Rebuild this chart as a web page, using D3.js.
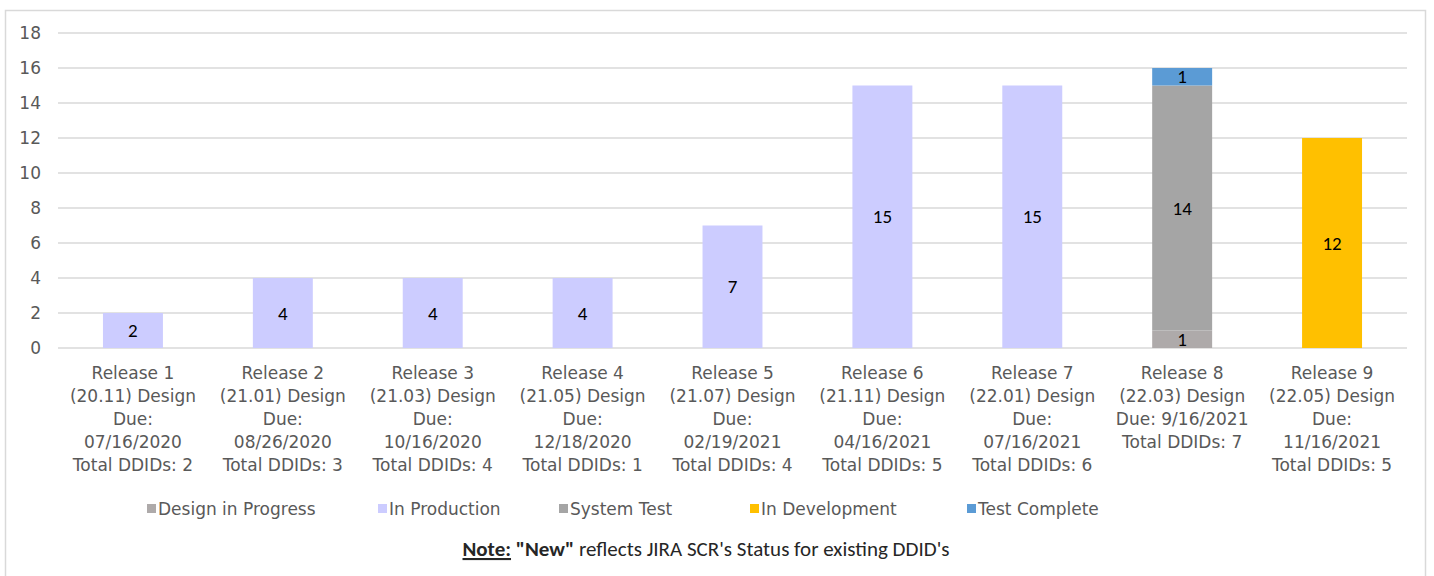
<!DOCTYPE html>
<html>
<head>
<meta charset="utf-8">
<script src="https://cdn.jsdelivr.net/npm/d3@7"></script>
<style>
  body { margin: 0; background: #fff; }
  svg { display: block; }
</style>
</head>
<body>
<div id="chart"></div>
<script>
// categories (each label is wrapped the way the reference shows it)
const categories = ['R1', 'R2', 'R3', 'R4', 'R5', 'R6', 'R7', 'R8', 'R9'];
const categoryLabels = [
    ['Release 1', '(20.11) Design', 'Due:', '07/16/2020', 'Total DDIDs: 2'],
    ['Release 2', '(21.01) Design', 'Due:', '08/26/2020', 'Total DDIDs: 3'],
    ['Release 3', '(21.03) Design', 'Due:', '10/16/2020', 'Total DDIDs: 4'],
    ['Release 4', '(21.05) Design', 'Due:', '12/18/2020', 'Total DDIDs: 1'],
    ['Release 5', '(21.07) Design', 'Due:', '02/19/2021', 'Total DDIDs: 4'],
    ['Release 6', '(21.11) Design', 'Due:', '04/16/2021', 'Total DDIDs: 5'],
    ['Release 7', '(22.01) Design', 'Due:', '07/16/2021', 'Total DDIDs: 6'],
    ['Release 8', '(22.03) Design', 'Due: 9/16/2021', 'Total DDIDs: 7'],
    ['Release 9', '(22.05) Design', 'Due:', '11/16/2021', 'Total DDIDs: 5']
];

// series, bottom to top
const seriesNames = ['Design in Progress', 'In Production', 'System Test', 'In Development', 'Test Complete'];
const designInProgress = [0, 0, 0, 0, 0, 0, 0, 1, 0];
const inProduction     = [2, 4, 4, 4, 7, 15, 15, 0, 0];
const systemTest       = [0, 0, 0, 0, 0, 0, 0, 14, 0];
const inDevelopment    = [0, 0, 0, 0, 0, 0, 0, 0, 12];
const testComplete     = [0, 0, 0, 0, 0, 0, 0, 1, 0];
const seriesColors = ['#aeaaaa', '#ccccff', '#a5a5a5', '#ffc000', '#5b9bd5'];

const yTicks = [0, 2, 4, 6, 8, 10, 12, 14, 16, 18];

const W = 1434, H = 576;
const labelFont = "'Century Gothic', 'URW Gothic', 'DejaVu Sans', sans-serif";
const valueFont = "Calibri, Carlito, 'Open Sans', sans-serif";

const svg = d3.select('#chart').append('svg')
    .attr('width', W)
    .attr('height', H);

// chart border
svg.append('rect')
    .attr('x', 5.5).attr('y', 10.5)
    .attr('width', 1420).attr('height', 600)
    .attr('fill', '#fff')
    .attr('stroke', '#d9d9d9')
    .attr('stroke-width', 1.5);

const plot = { left: 58, right: 1407, top: 33, bottom: 348 };

const x = d3.scaleBand()
    .domain(categories)
    .range([plot.left, plot.right])
    .paddingInner(0.6)
    .paddingOuter(0.3);

const y = d3.scaleLinear()
    .domain([0, 18])
    .range([plot.bottom, plot.top]);

// gridlines
svg.append('g')
    .selectAll('line')
    .data(yTicks)
    .join('line')
    .attr('x1', plot.left).attr('x2', plot.right)
    .attr('y1', d => y(d)).attr('y2', d => y(d))
    .attr('stroke', '#d9d9d9')
    .attr('stroke-width', 1.5);

// y axis labels
const yAxis = svg.append('g')
    .attr('transform', `translate(${plot.left}, 0)`)
    .call(d3.axisLeft(y).tickValues(yTicks).tickSize(0).tickPadding(17));
yAxis.select('.domain').remove();
yAxis.selectAll('text')
    .attr('font-family', labelFont)
    .attr('font-size', 17)
    .attr('fill', '#595959');

// stacked data
const table = categories.map((c, i) => ({
    cat: c,
    'Design in Progress': designInProgress[i],
    'In Production': inProduction[i],
    'System Test': systemTest[i],
    'In Development': inDevelopment[i],
    'Test Complete': testComplete[i]
}));
const stacked = d3.stack().keys(seriesNames)(table);

const layers = svg.append('g')
    .selectAll('g')
    .data(stacked)
    .join('g')
    .attr('fill', (d, i) => seriesColors[i]);

layers.selectAll('rect')
    .data(d => d.filter(s => s[1] - s[0] > 0))
    .join('rect')
    .attr('x', d => x(d.data.cat))
    .attr('y', d => y(d[1]))
    .attr('width', x.bandwidth())
    .attr('height', d => y(d[0]) - y(d[1]));

// data labels
layers.selectAll('text')
    .data(d => d.filter(s => s[1] - s[0] > 0))
    .join('text')
    .attr('x', d => x(d.data.cat) + x.bandwidth() / 2)
    .attr('y', d => (y(d[0]) + y(d[1])) / 2)
    .attr('dy', '0.35em')
    .attr('text-anchor', 'middle')
    .attr('font-family', valueFont)
    .attr('font-size', 19)
    .attr('fill', '#000')
    .text(d => d[1] - d[0]);

// category labels
const xLabels = svg.append('g')
    .selectAll('text')
    .data(categories)
    .join('text')
    .attr('x', d => x(d) + x.bandwidth() / 2)
    .attr('y', 379)
    .attr('text-anchor', 'middle')
    .attr('font-family', labelFont)
    .attr('font-size', 17)
    .attr('fill', '#595959');
xLabels.each(function (d, i) {
    d3.select(this).selectAll('tspan')
        .data(categoryLabels[i])
        .join('tspan')
        .attr('x', x(d) + x.bandwidth() / 2)
        .attr('dy', (t, j) => j === 0 ? 0 : 23)
        .text(t => t);
});

// legend
const legendX = [147, 378, 559, 750, 967];
const legend = svg.append('g')
    .selectAll('g')
    .data(seriesNames)
    .join('g')
    .attr('transform', (d, i) => `translate(${legendX[i]}, 509)`);
legend.append('rect')
    .attr('x', 0).attr('y', -5)
    .attr('width', 9).attr('height', 9)
    .attr('fill', (d, i) => seriesColors[i]);
legend.append('text')
    .attr('x', 11)
    .attr('dy', '0.35em')
    .attr('font-family', labelFont)
    .attr('font-size', 17)
    .attr('fill', '#595959')
    .text(d => d);

// note
const note = svg.append('text')
    .attr('x', 706)
    .attr('y', 556)
    .attr('text-anchor', 'middle')
    .attr('font-family', valueFont)
    .attr('font-size', 21)
    .attr('fill', '#262626');
note.append('tspan').attr('font-weight', 'bold').attr('text-decoration', 'underline').text('Note:');
note.append('tspan').attr('font-weight', 'bold').text(' "New"');
note.append('tspan').text(" reflects JIRA SCR's Status for existing DDID's");
</script>
</body>
</html>
